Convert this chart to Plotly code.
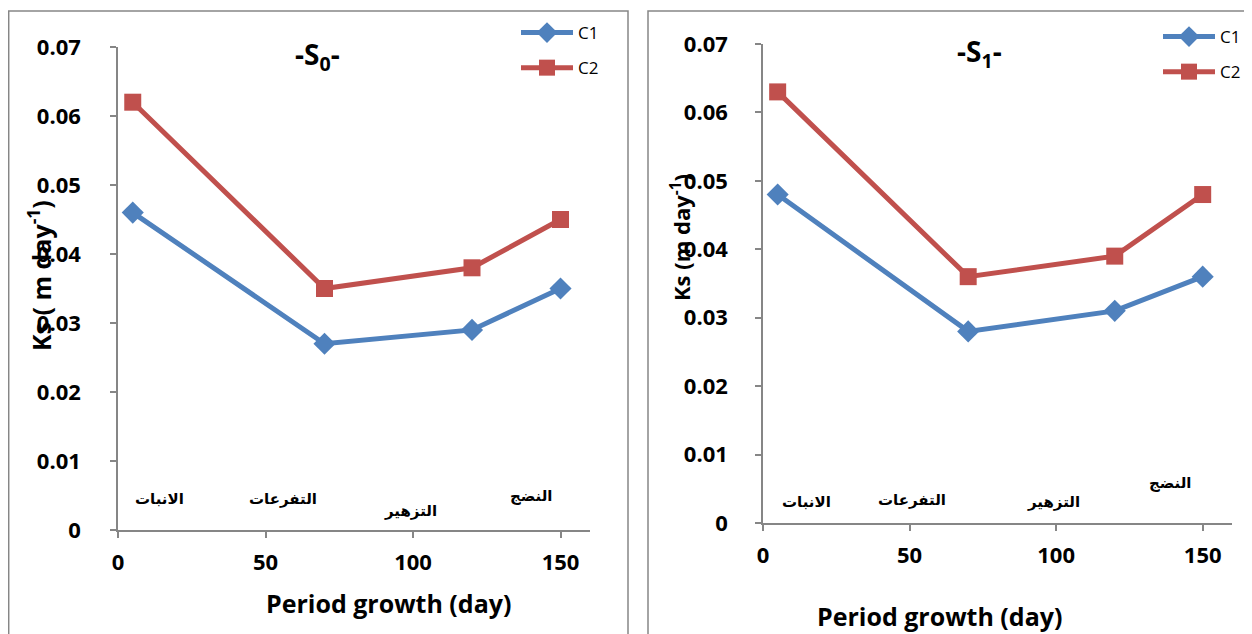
import plotly.graph_objects as go

# ---- data ----
days = [5, 70, 120, 150]
s0_c1 = [0.046, 0.027, 0.029, 0.035]
s0_c2 = [0.062, 0.035, 0.038, 0.045]
s1_c1 = [0.048, 0.028, 0.031, 0.036]
s1_c2 = [0.063, 0.036, 0.039, 0.048]
stage_labels = ["الانبات", "التفرعات", "التزهير", "النضج"]
s0_label_x = [14, 56, 99, 140]
s0_label_y = [0.0045, 0.0045, 0.0027, 0.0049]
s1_label_x = [15, 51, 99, 139]
s1_label_y = [0.0031, 0.0034, 0.0031, 0.0058]
series_names = ["C1", "C2"]
x_ticks = [0, 50, 100, 150]

BLUE = "#4F81BD"
RED = "#C0504D"
GRAY = "#868686"
OFF = 8  # page body margin
W, H = 1252 - OFF, 634 - OFF


def px(xs):
    return (xs - OFF) / W


def py(ys):
    return 1 - (ys - OFF) / H


fig = go.Figure()


def add_panel(c1, c2, xa, ya, leg):
    fig.add_trace(go.Scatter(x=days, y=c1, name=series_names[0], mode="lines+markers",
                             line=dict(color=BLUE, width=5),
                             marker=dict(symbol="diamond", size=17, color=BLUE),
                             xaxis=xa, yaxis=ya, legend=leg, legendgroup=leg + "a"))
    fig.add_trace(go.Scatter(x=days, y=c2, name=series_names[1], mode="lines+markers",
                             line=dict(color=RED, width=5),
                             marker=dict(symbol="square", size=17, color=RED),
                             xaxis=xa, yaxis=ya, legend=leg, legendgroup=leg + "b"))


add_panel(s0_c1, s0_c2, "x", "y", "legend")
add_panel(s1_c1, s1_c2, "x2", "y2", "legend2")

tickfont = dict(family="Open Sans", size=22, color="black", weight="bold")
axis_common = dict(showline=True, linecolor=GRAY, linewidth=1.5, ticks="outside",
                   ticklen=6, tickcolor=GRAY, tickwidth=1.5, showgrid=False,
                   zeroline=False, tickfont=tickfont, fixedrange=True, automargin=False)

fig.update_layout(
    template="none",
    width=W, height=H,
    margin=dict(l=0, r=0, t=0, b=0),
    paper_bgcolor="white", plot_bgcolor="white",
    showlegend=True,
    xaxis=dict(domain=[px(118), px(590)], range=[0, 160], tickvals=x_ticks,
               anchor="y", ticklabelstandoff=6, **axis_common),
    yaxis=dict(domain=[py(530), py(47)], range=[0, 0.07], dtick=0.01,
               anchor="x", ticklabelstandoff=25, **axis_common),
    xaxis2=dict(domain=[px(763), px(1232)], range=[0, 160], tickvals=x_ticks,
                anchor="y2", ticklabelstandoff=6, **axis_common),
    yaxis2=dict(domain=[py(523), py(44)], range=[0, 0.07], dtick=0.01,
                anchor="x2", ticklabelstandoff=23, **axis_common),
    legend=dict(x=px(516), y=py(15), xanchor="left", yanchor="top",
                font=dict(family="Open Sans", size=17, color="black"),
                itemwidth=52, tracegroupgap=10, bgcolor="rgba(0,0,0,0)"),
    legend2=dict(x=px(1158), y=py(19), xanchor="left", yanchor="top",
                 font=dict(family="Open Sans", size=17, color="black"),
                 itemwidth=52, tracegroupgap=10, bgcolor="rgba(0,0,0,0)"),
)

# panel frames
fig.add_shape(type="rect", xref="paper", yref="paper", x0=0.7 / W, x1=px(628),
              y0=-0.05, y1=py(11), line=dict(color=GRAY, width=1.5), layer="below")
fig.add_shape(type="rect", xref="paper", yref="paper", x0=px(648), x1=1.05,
              y0=-0.05, y1=py(11), line=dict(color=GRAY, width=1.5), layer="below")


def ann(text, x, y, font, angle=0):
    fig.add_annotation(text=text, xref="paper", yref="paper", x=px(x), y=py(y),
                       xanchor="center", yanchor="middle", showarrow=False,
                       textangle=angle, font=font)


titlefont = dict(family="Open Sans", size=28, color="black", weight="bold")
ann("-S<sub>0</sub>-", 317, 56, titlefont)
ann("-S<sub>1</sub>-", 979, 53, titlefont)

axtitle = dict(family="Open Sans", size=25, color="black", weight="bold")
ann("Period growth (day)", 388, 603, axtitle)
ann("Period growth (day)", 940, 616, axtitle)
ann("Ks ( m day<sup>-1</sup>)", 39, 276, dict(family="Open Sans", size=25, color="black", weight="bold"), -90)
ann("Ks (m day<sup>-1</sup>)", 680, 238, dict(family="Open Sans", size=22, color="black", weight="bold"), -90)

arfont = dict(family="DejaVu Sans", size=15, color="black", weight="bold")
for lab, lx, ly in zip(stage_labels, s0_label_x, s0_label_y):
    fig.add_annotation(text=lab, x=lx, y=ly, xref="x", yref="y", showarrow=False, font=arfont)
for lab, lx, ly in zip(stage_labels, s1_label_x, s1_label_y):
    fig.add_annotation(text=lab, x=lx, y=ly, xref="x2", yref="y2", showarrow=False, font=arfont)

fig.write_html("out.html")
